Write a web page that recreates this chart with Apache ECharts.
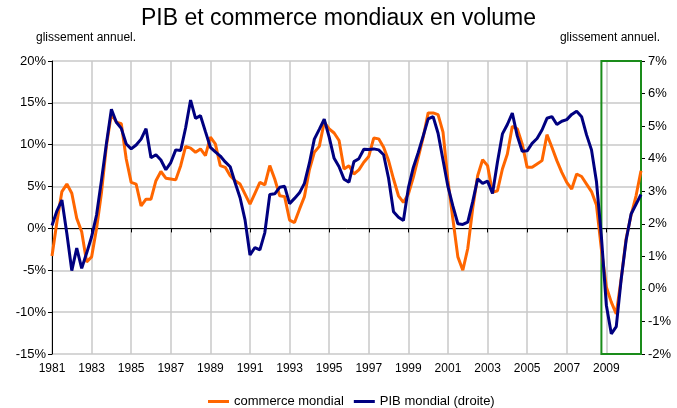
<!DOCTYPE html>
<html>
<head>
<meta charset="utf-8">
<title>PIB et commerce mondiaux en volume</title>
<script src="https://cdn.jsdelivr.net/npm/echarts@6/dist/echarts.min.js"></script>
<style>
  html, body { margin: 0; padding: 0; background: #fff; }
  #chart { width: 677px; height: 408px; }
</style>
</head>
<body>
<div id="chart"></div>
<script>
// années et trimestres (1981T1 .. 2010T4)
const years = [1981, 1982, 1983, 1984, 1985, 1986, 1987, 1988, 1989, 1990,
  1991, 1992, 1993, 1994, 1995, 1996, 1997, 1998, 1999, 2000,
  2001, 2002, 2003, 2004, 2005, 2006, 2007, 2008, 2009, 2010]
const quarters = ['T1', 'T2', 'T3', 'T4']

// commerce mondial, glissement annuel (%), axe de gauche
const commerce = [
  -3.3, 0.8, 4.4, 5.3, 4.2, 1.2, -0.4, -4.0,
  -3.4, 0.0, 4.3, 9.9, 13.7, 12.7, 12.5, 8.3,
  5.5, 5.3, 2.7, 3.5, 3.5, 5.7, 6.8, 6.0,
  5.9, 5.8, 7.5, 9.8, 9.6, 9.1, 9.5, 8.7,
  10.9, 10.1, 7.5, 7.3, 6.3, 5.7, 5.3, 4.1,
  2.9, 4.2, 5.5, 5.2, 7.5, 5.9, 3.9, 3.8,
  1.0, 0.7, 2.3, 3.8, 7.0, 9.1, 9.8, 12.7,
  11.9, 11.4, 10.5, 7.1, 7.5, 6.5, 7.0, 7.9,
  8.6, 10.8, 10.7, 9.7, 8.1, 5.9, 3.9, 3.1,
  4.1, 6.1, 8.5, 10.9, 13.8, 13.8, 13.6, 11.5,
  5.7, 1.1, -3.4, -5.0, -2.4, 2.4, 6.3, 8.2,
  7.5, 4.3, 4.5, 7.1, 8.9, 12.2, 11.9, 10.1,
  7.3, 7.3, 7.7, 8.1, 11.2, 9.7, 8.1, 6.7,
  5.5, 4.7, 6.5, 6.2, 5.3, 4.4, 2.8, -2.5,
  -7.0, -8.8, -10.2, -6.0, -1.2, 1.6, 3.9, 6.9
]

// PIB mondial, glissement annuel (%), axe de droite
const pib = [
  1.95, 2.4, 2.73, 1.7, 0.56, 1.25, 0.63, 1.1,
  1.6, 2.27, 3.34, 4.47, 5.52, 5.12, 4.93, 4.45,
  4.3, 4.42, 4.6, 4.92, 4.03, 4.12, 3.96, 3.66,
  3.88, 4.27, 4.25, 4.95, 5.8, 5.24, 5.32, 4.83,
  4.35, 4.21, 4.08, 3.9, 3.75, 3.26, 2.8, 2.12,
  1.04, 1.27, 1.2, 1.73, 2.9, 2.92, 3.12, 3.15,
  2.62, 2.78, 2.95, 3.24, 3.86, 4.6, 4.9, 5.21,
  4.66, 4.01, 3.75, 3.37, 3.28, 3.91, 4.0, 4.29,
  4.28, 4.3, 4.27, 4.12, 3.4, 2.37, 2.2, 2.1,
  3.1, 3.73, 4.19, 4.7, 5.22, 5.29, 4.78, 3.96,
  3.14, 2.54, 2.0, 1.98, 2.05, 2.68, 3.38, 3.24,
  3.31, 2.93, 3.9, 4.76, 5.05, 5.4, 4.7, 4.23,
  4.24, 4.47, 4.62, 4.88, 5.24, 5.29, 5.05, 5.15,
  5.2, 5.36, 5.46, 5.29, 4.73, 4.27, 3.3, 1.6,
  -0.5, -1.38, -1.16, 0.3, 1.5, 2.3, 2.6, 2.9
]

// bornes des axes
const leftAxis = { min: -15, max: 20, step: 5 }
const rightAxis = { min: -2, max: 7, step: 1 }

// encadré vert : de 2008T4 à 2010T4
const boxFrom = '2008T4'
const boxTo = '2010T4'

let cats = []
years.forEach((y) => {
  quarters.forEach((q) => {
    cats.push(y + q)
  })
})

const FONT = '"Liberation Sans", Arial, sans-serif'
const GRID_COLOR = '#c8c8c8'

let option = {
  animation: false,
  textStyle: { fontFamily: FONT },
  title: [{
    text: 'PIB et commerce mondiaux en volume',
    left: 'center',
    top: 2,
    textStyle: { fontSize: 23, fontWeight: 'normal', color: '#000', fontFamily: FONT }
  }, {
    text: 'glissement annuel.',
    left: 31,
    top: 27,
    textStyle: { fontSize: 12, fontWeight: 'normal', color: '#000', fontFamily: FONT }
  }, {
    text: 'glissement annuel.',
    right: 12,
    top: 27,
    textStyle: { fontSize: 12, fontWeight: 'normal', color: '#000', fontFamily: FONT }
  }],
  legend: {
    left: 203,
    top: 390,
    icon: 'rect',
    itemWidth: 21,
    itemHeight: 3,
    itemGap: 10,
    textStyle: { fontSize: 13, color: '#000', fontFamily: FONT },
    data: ['commerce mondial', 'PIB mondial (droite)']
  },
  grid: { left: 52, right: 36, top: 61, bottom: 54 },
  xAxis: [{
    type: 'category',
    data: cats,
    boundaryGap: false,
    position: 'bottom',
    axisLine: { show: false, onZero: false },
    axisTick: { show: false },
    axisLabel: {
      interval: 7,
      formatter: (v) => v.slice(0, 4),
      fontSize: 12,
      color: '#000',
      margin: 9
    },
    splitLine: { show: true, interval: 7, lineStyle: { color: GRID_COLOR, width: 1.5 } }
  }, {
    // ligne du zéro avec ses graduations
    type: 'category',
    data: cats,
    boundaryGap: false,
    position: 'bottom',
    axisLine: { show: true, onZero: true, onZeroAxisIndex: 0, lineStyle: { color: '#000', width: 1 } },
    axisTick: { show: true, interval: 7, length: 4, lineStyle: { color: '#000' } },
    axisLabel: { show: false },
    splitLine: { show: false }
  }],
  yAxis: [{
    type: 'value',
    position: 'left',
    min: leftAxis.min,
    max: leftAxis.max,
    interval: leftAxis.step,
    axisLine: { show: true, lineStyle: { color: '#000' } },
    axisTick: { show: true, length: 4, lineStyle: { color: '#000' } },
    axisLabel: { formatter: '{value}%', fontSize: 13, color: '#000', margin: 6 },
    splitLine: { show: true, lineStyle: { color: GRID_COLOR, width: 1.5 } }
  }, {
    type: 'value',
    position: 'right',
    min: rightAxis.min,
    max: rightAxis.max,
    interval: rightAxis.step,
    axisLine: { show: true, lineStyle: { color: '#000' } },
    axisTick: { show: true, length: 4, lineStyle: { color: '#000' } },
    axisLabel: { formatter: '{value}%', fontSize: 13, color: '#000', margin: 7 },
    splitLine: { show: false }
  }],
  series: [{
    name: 'commerce mondial',
    type: 'line',
    xAxisIndex: 0,
    yAxisIndex: 0,
    data: commerce,
    symbol: 'none',
    lineStyle: { color: '#ff6600', width: 3 },
    itemStyle: { color: '#ff6600' }
  }, {
    name: 'PIB mondial (droite)',
    type: 'line',
    xAxisIndex: 0,
    yAxisIndex: 1,
    data: pib,
    symbol: 'none',
    clip: false,
    lineStyle: { color: '#000080', width: 3 },
    itemStyle: { color: '#000080' },
    markArea: {
      silent: true,
      itemStyle: { color: 'rgba(0,0,0,0)', borderColor: '#1a8c1a', borderWidth: 2 },
      data: [[{ xAxis: boxFrom }, { xAxis: boxTo }]]
    }
  }]
}

let myChart = echarts.init(document.getElementById('chart'))
myChart.setOption(option)
</script>
</body>
</html>
